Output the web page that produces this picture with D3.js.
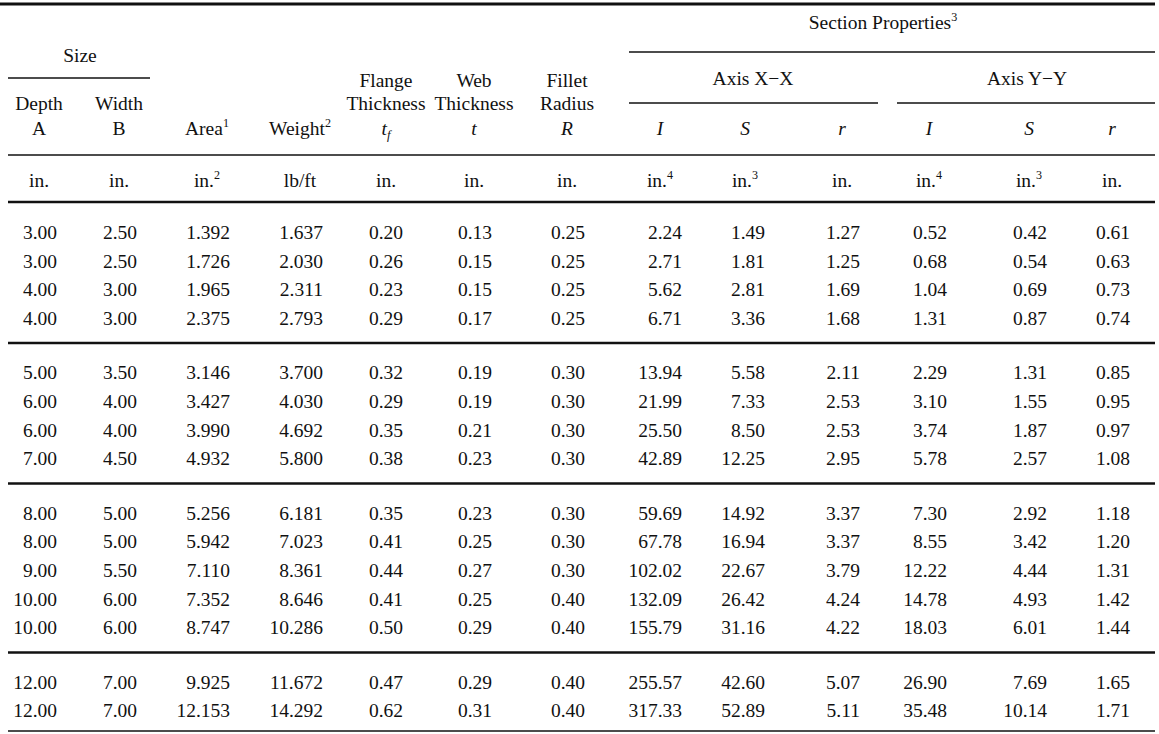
<!DOCTYPE html>
<html><head><meta charset="utf-8">
<script src="https://cdn.jsdelivr.net/npm/d3@7/dist/d3.min.js"></script>
<style>body{margin:0;background:#fff}text{font-family:"Liberation Serif","Times New Roman",serif;fill:#111}</style>
</head><body><svg id="c" width="1159" height="734"></svg>
<script>
const depth=["3.00","3.00","4.00","4.00","5.00","6.00","6.00","7.00","8.00","8.00","9.00","10.00","10.00","12.00","12.00"];
const width=["2.50","2.50","3.00","3.00","3.50","4.00","4.00","4.50","5.00","5.00","5.50","6.00","6.00","7.00","7.00"];
const area=["1.392","1.726","1.965","2.375","3.146","3.427","3.990","4.932","5.256","5.942","7.110","7.352","8.747","9.925","12.153"];
const weight=["1.637","2.030","2.311","2.793","3.700","4.030","4.692","5.800","6.181","7.023","8.361","8.646","10.286","11.672","14.292"];
const flange=["0.20","0.26","0.23","0.29","0.32","0.29","0.35","0.38","0.35","0.41","0.44","0.41","0.50","0.47","0.62"];
const web=["0.13","0.15","0.15","0.17","0.19","0.19","0.21","0.23","0.23","0.25","0.27","0.25","0.29","0.29","0.31"];
const fillet=["0.25","0.25","0.25","0.25","0.30","0.30","0.30","0.30","0.30","0.30","0.30","0.40","0.40","0.40","0.40"];
const Ix=["2.24","2.71","5.62","6.71","13.94","21.99","25.50","42.89","59.69","67.78","102.02","132.09","155.79","255.57","317.33"];
const Sx=["1.49","1.81","2.81","3.36","5.58","7.33","8.50","12.25","14.92","16.94","22.67","26.42","31.16","42.60","52.89"];
const rx=["1.27","1.25","1.69","1.68","2.11","2.53","2.53","2.95","3.37","3.37","3.79","4.24","4.22","5.07","5.11"];
const Iy=["0.52","0.68","1.04","1.31","2.29","3.10","3.74","5.78","7.30","8.55","12.22","14.78","18.03","26.90","35.48"];
const Sy=["0.42","0.54","0.69","0.87","1.31","1.55","1.87","2.57","2.92","3.42","4.44","4.93","6.01","7.69","10.14"];
const ry=["0.61","0.63","0.73","0.74","0.85","0.95","0.97","1.08","1.18","1.20","1.31","1.42","1.44","1.65","1.71"];
const groups=[0,0,0,0,1,1,1,1,2,2,2,2,2,3,3];
const units=[["in."],["in."],["in.","2"],["lb/ft"],["in."],["in."],["in."],["in.","4"],["in.","3"],["in."],["in.","4"],["in.","3"],["in."]];
const columns=[depth,width,area,weight,flange,web,fillet,Ix,Sx,rx,Iy,Sy,ry];

const svg=d3.select("#c");
const FS=19.5;
const colRight=d3.scaleOrdinal().domain(d3.range(13)).range([57,137,230,323,403,492,585,682,765,860,947,1047,1130]);
const colCenter=d3.scaleOrdinal().domain(d3.range(13)).range([39,119,207,300,386,474,567,660,745,842,929,1029,1112]);
const yRow=d3.scaleLinear().domain([0,1]).range([232,260.6]);
const gap=26;
const y=i=>yRow(i)+groups[i]*gap;
const x0=8,x1=1155;
function hline(yy,a,b,w){svg.append("line").attr("x1",a).attr("x2",b).attr("y1",yy).attr("y2",yy).attr("stroke","#111").attr("stroke-width",w);}
function txt(x,yy,s,opt={}){const t=svg.append("text").attr("x",x).attr("y",yy).attr("text-anchor",opt.anchor||"middle").attr("font-size",opt.fs||FS);
 if(opt.italic)t.attr("font-style","italic");t.text(s);return t;}
function sup(t,s){t.append("tspan").attr("font-size",FS*0.62).attr("dy",-8).text(s);}

hline(4,0,x1,3);
hline(52,629,x1,1.5);
hline(78,x0,150,1.5);
hline(103,629,878,1.5);
hline(103,897,x1,1.5);
hline(155,x0,x1,1.5);
hline(202,x0,x1,2.5);
[1,2,3].forEach(g=>{const last=groups.lastIndexOf(g-1);hline((y(last)+y(last+1))/2-2,x0,x1,2.5);});
hline(731,x0,x1,1.5);

const bl=7;
txt(80,55+bl,"Size");
let t=txt(883,22+bl,"Section Properties");sup(t,"3");
txt(753,78+bl,"Axis X\u2212X");
txt(1027,78+bl,"Axis Y\u2212Y");
txt(colCenter(0),103+bl,"Depth");txt(colCenter(0),128+bl,"A");
txt(colCenter(1),103+bl,"Width");txt(colCenter(1),128+bl,"B");
t=txt(colCenter(2),128+bl,"Area");sup(t,"1");
t=txt(colCenter(3),128+bl,"Weight");sup(t,"2");
txt(colCenter(4),80+bl,"Flange");txt(colCenter(4),103+bl,"Thickness");
t=txt(colCenter(4),128+bl,"t",{italic:true});t.append("tspan").attr("font-size",FS*0.65).attr("dy",4).text("f");
txt(colCenter(5),80+bl,"Web");txt(colCenter(5),103+bl,"Thickness");txt(colCenter(5),128+bl,"t",{italic:true});
txt(colCenter(6),80+bl,"Fillet");txt(colCenter(6),103+bl,"Radius");txt(colCenter(6),128+bl,"R",{italic:true});
["I","S","r","I","S","r"].forEach((s,k)=>txt(colCenter(7+k),128+bl,s,{italic:true}));
units.forEach((u,k)=>{const tt=txt(colCenter(k),180+bl,u[0]);if(u[1])sup(tt,u[1]);});

columns.forEach((col,k)=>{
 svg.append("g").selectAll("text").data(col).join("text")
  .attr("x",colRight(k)).attr("y",(d,i)=>y(i)+bl).attr("text-anchor","end").attr("font-size",FS).text(d=>d);
});
</script></body></html>
